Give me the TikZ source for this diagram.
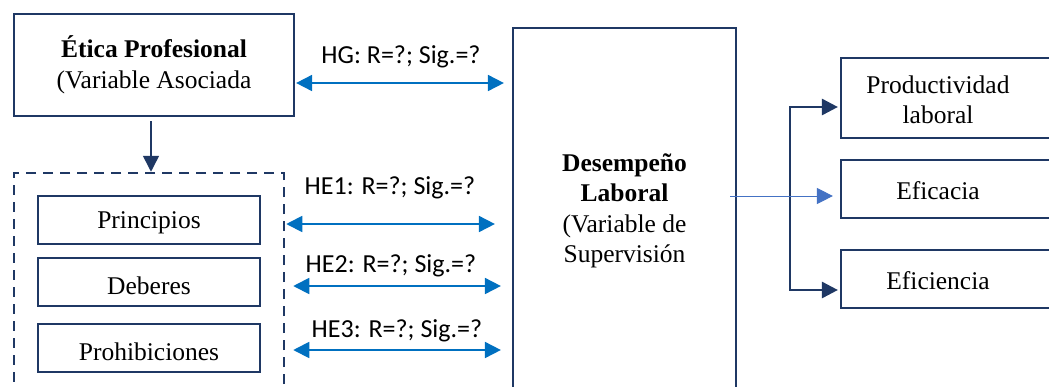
\documentclass[tikz,border=0pt]{standalone}
\usepackage{fontspec}
\setmainfont{Liberation Serif}
\newfontfamily\calib{Carlito}
\usetikzlibrary{arrows.meta,calc}
\definecolor{navy}{HTML}{1F3864}
\definecolor{lblue}{HTML}{0070C0}
\definecolor{mblue}{HTML}{4472C4}
\begin{document}
\begin{tikzpicture}[x=1pt,y=-1pt,
  box/.style={draw=navy,line width=2.2pt,inner sep=0pt,align=center,font=\fontsize{25.5}{30.5}\selectfont},
  txt/.style={inner sep=0pt,align=center,font=\fontsize{25.5}{30.5}\selectfont},
  lbl/.style={font=\calib\fontsize{26}{30}\selectfont,inner sep=0pt},
  dbl/.style={lblue,line width=1.8pt,{Triangle[length=16pt,width=16pt]}-{Triangle[length=16pt,width=16pt]}},
  darr/.style={navy,line width=2.8pt,-{Triangle[length=16pt,width=16pt]}}]
\useasboundingbox (0,0) rectangle (1049,386);
\fill[white] (0,0) rectangle (1049,386);
% left
\node[box,minimum width=280pt,minimum height=102pt] (etica) at (154,65)
  {\textbf{Ética Profesional}\\(Variable Asociada};
\node[draw=navy,line width=2.5pt,dash pattern=on 10pt off 7pt,minimum width=270pt,minimum height=230pt,inner sep=0pt] (grp) at (149,288) {};
\node[box,minimum width=222pt,minimum height=48pt] (pri) at (149,220) {};
\node[txt] (prit) at (149,223) {Principios};
\node[box,minimum width=222pt,minimum height=48pt] (deb) at (149,282) {};
\node[txt] (debt) at (149,286) {Deberes};
\node[box,minimum width=222pt,minimum height=48pt] (pro) at (149,348) {};
\node[txt] (prot) at (149,352) {Prohibiciones};
% center
\node[box,minimum width=223pt,minimum height=366pt] (des) at (624.5,211)
  {\textbf{Desempeño}\\\textbf{Laboral}\\(Variable de\\Supervisión};
% right
\node[box,minimum width=230pt,minimum height=80pt] (prod) at (956,98) {};
\node[txt] (prodt) at (938,100) {Productividad\\laboral};
\node[box,minimum width=230pt,minimum height=58pt] (efc) at (956,189) {};
\node[txt] (efct) at (938,191) {Eficacia};
\node[box,minimum width=230pt,minimum height=58pt] (efi) at (956,279) {};
\node[txt] (efit) at (938,281) {Eficiencia};
% labels
\node[lbl] (hg) at (401,57) {HG: R=?; Sig.=?};
\node[lbl] (he1) at (390,188) {HE1: R=?; Sig.=?};
\node[lbl] (he2) at (391,266) {HE2: R=?; Sig.=?};
\node[lbl] (he3) at (397,331) {HE3: R=?; Sig.=?};
% connectors
\draw[dbl,shorten <=1pt,shorten >=8pt] (etica.east |- 0,83) -- (des.west |- 0,83);
\draw[dbl,shorten <=1pt,shorten >=17pt] (grp.east |- 0,224) -- (des.west |- 0,224);
\draw[dbl,shorten <=8pt,shorten >=11pt] (grp.east |- 0,286) -- (des.west |- 0,286);
\draw[dbl,shorten <=8pt,shorten >=11pt] (grp.east |- 0,350) -- (des.west |- 0,350);
\draw[navy,line width=1.5pt,-{Triangle[length=16pt,width=16pt]},shorten <=4pt] (etica.south -| 151,0) -- (grp.north -| 151,0);
\coordinate (bk) at (790,196);
\draw[darr,shorten >=2pt] (bk) |- (prod.west |- 0,107);
\draw[darr,shorten >=2pt] (bk) |- (efi.west |- 0,290);
\coordinate (bs) at (730,196);
\draw[mblue,line width=1pt,-{Triangle[length=16pt,width=16pt]},shorten >=7pt] (bs) -- (efc.west |- bs);
\end{tikzpicture}
\end{document}
